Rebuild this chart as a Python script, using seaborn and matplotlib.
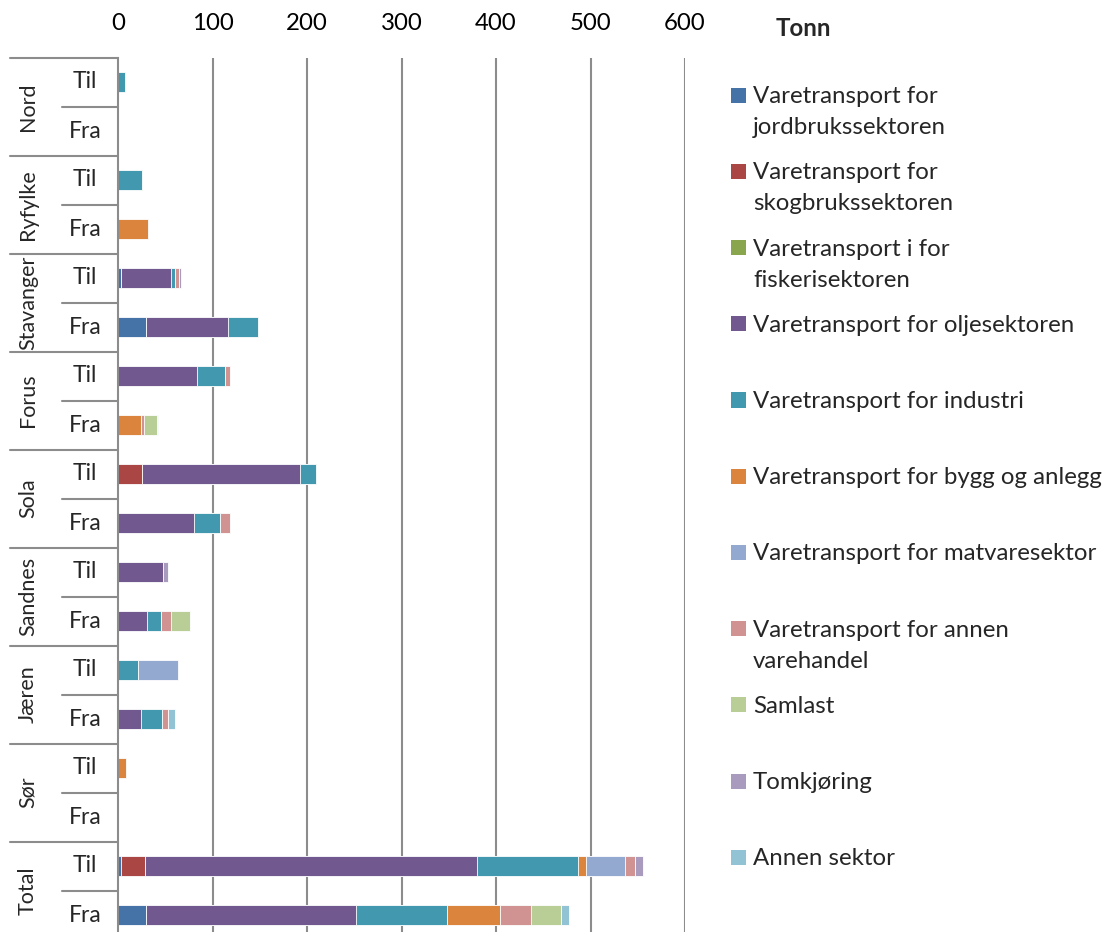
import numpy as np
import pandas as pd
import matplotlib
matplotlib.use("Agg")
import matplotlib.pyplot as plt
import matplotlib.transforms as mtransforms
from matplotlib.patches import Rectangle
import seaborn as sns

# ---------------- data ----------------
regions = ["Nord", "Ryfylke", "Stavanger", "Forus", "Sola", "Sandnes", "Jæren", "Sør", "Total"]
directions = ["Til", "Fra"]

series_names = [
    "Varetransport for jordbrukssektoren",
    "Varetransport for skogbrukssektoren",
    "Varetransport i for fiskerisektoren",
    "Varetransport for oljesektoren",
    "Varetransport for industri",
    "Varetransport for bygg og anlegg",
    "Varetransport for matvaresektor",
    "Varetransport for annen varehandel",
    "Samlast",
    "Tomkjøring",
    "Annen sektor",
]
legend_lines = [
    ["Varetransport for", "jordbrukssektoren"],
    ["Varetransport for", "skogbrukssektoren"],
    ["Varetransport i for", "fiskerisektoren"],
    ["Varetransport for oljesektoren"],
    ["Varetransport for industri"],
    ["Varetransport for bygg og anlegg"],
    ["Varetransport for matvaresektor"],
    ["Varetransport for annen", "varehandel"],
    ["Samlast"],
    ["Tomkjøring"],
    ["Annen sektor"],
]

# order of rows: Nord Til, Nord Fra, Ryfylke Til, Ryfylke Fra, ... Total Til, Total Fra
jordbruk    = [0, 0,    0, 0,    3, 30,    0, 0,     0, 0,     0, 0,     0, 0,     0, 0,     3, 30]
skogbruk    = [0, 0,    0, 0,    0, 0,     0, 0,     25.5, 0,  0, 0,     0, 0,     0, 0,     26, 0]
fiskeri     = [0, 0,    0, 0,    0, 0,     0, 0,     0, 0,     0, 0,     0, 0,     0, 0,     0, 0]
olje        = [0, 0,    0, 0,    53, 86,   84, 0,    167, 80,  47.5, 31, 0, 24.5,  0, 0,     351, 222]
industri    = [7, 0,    25.5, 0, 4, 32,    29, 0,    17.5, 28, 0, 14,    21, 22,   0, 0,     107, 96]
bygg        = [0, 0,    0, 32,   0, 0,     0, 24,    0, 0,     0, 0,     0, 0,     8.5, 0,   8, 56]
matvare     = [0, 0,    0, 0,    0, 0,     0, 0,     0, 0,     0, 0,     42.5, 0,  0, 0,     42, 0]
varehandel  = [0, 0,    0, 0,    4.5, 0,   6, 4,     0, 10,    0, 11,    0, 6.5,   0, 0,     10.5, 33]
samlast     = [0, 0,    0, 0,    0, 0,     0, 13.5,  0, 0,     0, 20,    0, 0,     0, 0,     0, 32]
tomkjoring  = [0, 0,    0, 0,    2.5, 0,   0, 0,     0, 0,     5.3, 0,   0, 0,     0, 0,     8, 0]
annen       = [0, 0,    0, 0,    0, 0,     0, 0.7,   0, 0,     0, 0,     0, 7,     0, 0,     0, 8]

colors = ["#4572A7", "#AA4643", "#89A54E", "#71588F", "#4198AF", "#DB843D",
          "#93A9CF", "#D19392", "#B9CD96", "#A99BBD", "#92C3D4"]

series = [jordbruk, skogbruk, fiskeri, olje, industri, bygg, matvare,
          varehandel, samlast, tomkjoring, annen]

row_keys = [f"{r} {d}" for r in regions for d in directions]
df = pd.DataFrame({name: vals for name, vals in zip(series_names, series)})
df["row"] = row_keys
cum = df[series_names].cumsum(axis=1)

# ---------------- figure ----------------
sns.set_theme(style="white")
plt.rcParams["font.family"] = ["Lato", "DejaVu Sans"]
FS = 17.3

W, H = 1113, 932
fig = plt.figure(figsize=(W / 100, H / 100), dpi=100)
x0, x1 = 118, 685
ytop, ybot = 57.5, 939.5
ax = fig.add_axes([x0 / W, 1 - ybot / H, (x1 - x0) / W, (ybot - ytop) / H])

grid_col = "#8C8C8C"
for x in [100, 200, 300, 400, 500, 600]:
    ax.axvline(x, color=grid_col, lw=1.5, zorder=0)

# stacked bars by drawing cumulative totals from last to first
for i in reversed(range(len(series_names))):
    sns.barplot(x=cum[series_names[i]].values, y=row_keys, order=row_keys,
                orient="h", color=colors[i], width=0.41, saturation=1,
                edgecolor="#FFFFFF", linewidth=0.6, ax=ax, zorder=2)

ax.set_xlim(0, 600)
ax.set_ylim(len(row_keys) - 0.5, -0.5)
ax.xaxis.tick_top()
ax.set_xticks([0, 100, 200, 300, 400, 500, 600])
ax.tick_params(axis="x", length=0, pad=17, labelsize=FS, colors="black")
ax.set_yticks([])
ax.set_xlabel("")
ax.set_ylabel("")
for s in ["top", "right", "bottom"]:
    ax.spines[s].set_visible(False)
ax.spines["left"].set_color(grid_col)
ax.spines["left"].set_linewidth(1.5)
ax.spines["left"].set_zorder(3)

# category labels and separators
trans = mtransforms.blended_transform_factory(ax.transAxes, ax.transData)
axw = x1 - x0
gx0 = (10 - x0) / axw
sx0 = (62 - x0) / axw
for gi, reg in enumerate(regions):
    top = 2 * gi - 0.5
    ax.plot([gx0, 0], [top, top], color=grid_col, lw=1.5, transform=trans, clip_on=False)
    ax.plot([sx0, 0], [top + 1, top + 1], color=grid_col, lw=1.5, transform=trans, clip_on=False)
    ax.text((28 - x0) / axw, top + 1, reg, rotation=90, ha="center", va="center",
            fontsize=15.5, transform=trans, clip_on=False)
    for di, d in enumerate(directions):
        ax.text((85 - x0) / axw, 2 * gi + di, d, ha="center", va="center",
                fontsize=16.5, transform=trans, clip_on=False)

# legend (manual, Excel-style)
fig.text(803 / W, 1 - 28 / H, "Tonn", ha="center", va="center", fontsize=FS, fontweight="bold")
for i, lines in enumerate(legend_lines):
    cy = 95.2 + 76.2 * i
    fig.add_artist(Rectangle((731 / W, 1 - (cy + 7.5) / H), 15 / W, 15 / H,
                             transform=fig.transFigure, facecolor=colors[i], edgecolor="none"))
    for j, line in enumerate(lines):
        fig.text(753 / W, 1 - (cy + 8 + 31 * j) / H, line, ha="left", va="baseline", fontsize=FS)

fig.savefig("out.png", dpi=100)
